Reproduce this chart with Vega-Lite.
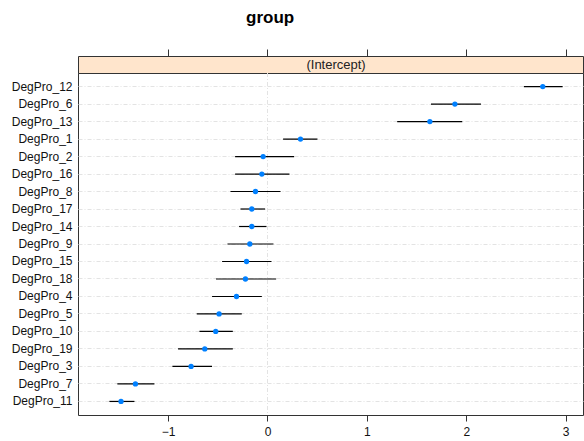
{
  "$schema": "https://vega.github.io/schema/vega-lite/v6.json",
  "padding": {"left": 10, "top": 9, "right": 1, "bottom": 4},
  "bounds": "flush",
  "background": "white",
  "title": {"text": "group", "fontSize": 17, "fontWeight": "bold", "font": "Liberation Sans", "color": "black", "anchor": "middle", "dx": -27, "offset": 21},
  "config": {
    "font": "Liberation Sans",
    "view": {"stroke": "#333333", "strokeWidth": 1}
  },
  "spacing": 0,
  "vconcat": [
    {
      "width": 505,
      "height": 17,
      "view": {"fill": "#ffe5cc", "stroke": "#333333"},
      "data": {"values": [{"strip": "(Intercept)", "pos": 0.69}]},
      "mark": {"type": "text", "fontSize": 13, "color": "#222222", "baseline": "middle"},
      "encoding": {
        "x": {"field": "pos", "type": "quantitative", "scale": {"domain": [-1.907, 3.175], "nice": false, "zero": false},
          "axis": {"orient": "top", "values": [-1, 0, 1, 2, 3], "labels": false, "ticks": true, "tickSize": 7, "tickColor": "#333333", "domain": false, "grid": false, "title": null}},
        "text": {"field": "strip"}
      }
    },
    {
      "width": 505,
      "height": 342,
      "view": {"fill": "white", "stroke": "#333333"},
      "data": {"values": [
        {"level": "DegPro_12", "est": 2.77, "lo": 2.58, "hi": 2.97},
        {"level": "DegPro_6", "est": 1.886, "lo": 1.645, "hi": 2.148},
        {"level": "DegPro_13", "est": 1.634, "lo": 1.305, "hi": 1.96},
        {"level": "DegPro_1", "est": 0.332, "lo": 0.157, "hi": 0.503},
        {"level": "DegPro_2", "est": -0.044, "lo": -0.326, "hi": 0.268},
        {"level": "DegPro_16", "est": -0.057, "lo": -0.326, "hi": 0.221},
        {"level": "DegPro_8", "est": -0.121, "lo": -0.373, "hi": 0.131},
        {"level": "DegPro_17", "est": -0.158, "lo": -0.272, "hi": -0.024},
        {"level": "DegPro_14", "est": -0.158, "lo": -0.286, "hi": -0.01},
        {"level": "DegPro_9", "est": -0.178, "lo": -0.403, "hi": 0.06},
        {"level": "DegPro_15", "est": -0.211, "lo": -0.457, "hi": 0.04},
        {"level": "DegPro_18", "est": -0.222, "lo": -0.518, "hi": 0.087},
        {"level": "DegPro_4", "est": -0.312, "lo": -0.558, "hi": -0.057},
        {"level": "DegPro_5", "est": -0.487, "lo": -0.712, "hi": -0.259},
        {"level": "DegPro_10", "est": -0.521, "lo": -0.685, "hi": -0.349},
        {"level": "DegPro_19", "est": -0.631, "lo": -0.9, "hi": -0.349},
        {"level": "DegPro_3", "est": -0.769, "lo": -0.957, "hi": -0.558},
        {"level": "DegPro_7", "est": -1.329, "lo": -1.511, "hi": -1.138},
        {"level": "DegPro_11", "est": -1.474, "lo": -1.591, "hi": -1.339}
      ]},
      "encoding": {
        "y": {"field": "level", "type": "nominal", "sort": null, "scale": {"padding": 0.55},
          "axis": {"title": null, "ticks": false, "domain": false, "grid": true, "gridColor": "#e3e3e3", "gridDash": [4, 2, 1, 2], "labelFontSize": 12, "labelColor": "#111111", "labelPadding": 6}}
      },
      "layer": [
        {
          "data": {"values": [{"ref": 0}]},
          "mark": {"type": "rule", "color": "#e3e3e3", "strokeDash": [4, 2, 1, 2]},
          "encoding": {"y": null, "x": {"field": "ref", "type": "quantitative"}}
        },
        {
          "mark": {"type": "rule", "color": "black", "strokeWidth": 1.2},
          "encoding": {
            "x": {"field": "lo", "type": "quantitative", "scale": {"domain": [-1.907, 3.175], "nice": false, "zero": false},
              "axis": {"values": [-1, 0, 1, 2, 3], "format": "d", "title": null, "grid": false, "domain": false, "tickSize": 6, "tickColor": "#333333", "labelFontSize": 12, "labelColor": "#111111", "labelPadding": 5}},
            "x2": {"field": "hi"}
          }
        },
        {
          "mark": {"type": "point", "shape": "circle", "filled": true, "size": 28, "color": "#0080ff", "opacity": 1},
          "encoding": {"x": {"field": "est", "type": "quantitative"}}
        }
      ]
    }
  ]
}
